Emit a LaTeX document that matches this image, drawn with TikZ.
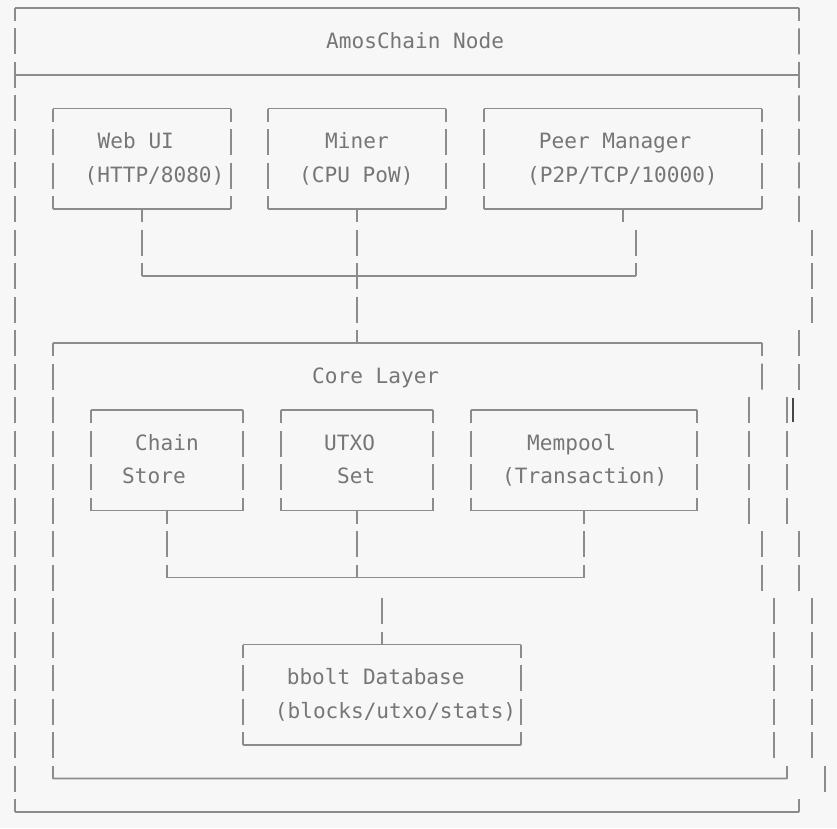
\documentclass[tikz,border=0pt]{standalone}
\usepackage{fontspec}
\newfontfamily\asciimono{DejaVu Sans Mono}
\usepackage{xcolor}
\definecolor{termbg}{RGB}{247,247,247}
\definecolor{termline}{RGB}{140,140,140}
\definecolor{termtext}{RGB}{118,118,118}
\definecolor{termcursor}{RGB}{70,70,70}
\tikzset{
    area/.style={rectangle, draw=none, inner sep=0pt, outer sep=0pt},
    txt/.style={anchor=base west, inner sep=0pt, text=termtext, font=\asciimono\fontsize{18}{18}\selectfont},
    hbar/.style={termline, line width=1.5pt},
    vbar/.style={termline, line width=1.5pt, dash pattern=on 0.78cm off 0.225cm, dash phase=0.39cm},
    vrun/.style={vbar, dash phase=0cm},
}
\newcommand{\asciibox}[1]{%
    \draw[hbar] (#1.north west) -- (#1.north east);
    \draw[hbar] (#1.south west) -- (#1.south east);
    \draw[vbar] (#1.north west) -- (#1.south west);
    \draw[vbar] (#1.north east) -- (#1.south east);
}
\begin{document}
\begin{tikzpicture}[x=0.03cm, y=-0.03cm]
    \fill[termbg] (0,0) rectangle (837,828);

    % outer frame
    \node[area, minimum width=23.52cm, minimum height=24.12cm] (outer) at (407,410) {};
    \node[txt] (title) at (326,48) {AmosChain Node};
    \coordinate (sep) at (0,75);
    \draw[hbar] (outer.north west) -- (outer.north east);
    \draw[hbar] (outer.south west) -- (outer.south east);
    \draw[hbar] (outer.west |- sep) -- (outer.east |- sep);
    \draw[vbar] (outer.north west) -- (outer.south west);
    % right edge drifts row by row
    \draw[vbar] (outer.north east) -- (799,222);
    \draw[vrun] (812,229.5) -- (812,322.5);
    \draw[vrun] (799,330) -- (799,389.5);
    \draw[vrun] (787,397) -- (787,523.5);
    \draw[vrun] (799,531) -- (799,590.5);
    \draw[vrun] (812,598) -- (812,758);
    \draw[vrun] (825,765.5) -- (825,791.5);
    \draw[vrun] (799,799) -- (outer.south east);
    \draw[termcursor, line width=2pt] (793,398) -- (793,421.7);

    % service boxes
    \node[area, minimum width=5.34cm, minimum height=3.015cm] (web) at (142,158.75) {};
    \node[area, minimum width=5.34cm, minimum height=3.015cm] (miner) at (357,158.75) {};
    \node[area, minimum width=8.34cm, minimum height=3.015cm] (peer) at (623,158.75) {};
    \asciibox{web}
    \asciibox{miner}
    \asciibox{peer}
    \node[txt] (web1) at (97.5,148.5) {Web UI};
    \node[txt] (web2) at (84.5,182) {(HTTP/8080)};
    \node[txt] (miner1) at (325,148.5) {Miner};
    \node[txt] (miner2) at (299,182) {(CPU PoW)};
    \node[txt] (peer1) at (538.7,148.5) {Peer Manager};
    \node[txt] (peer2) at (527,182) {(P2P/TCP/10000)};

    % core layer
    \node[area, minimum width=21.27cm, minimum height=13.065cm] (core) at (407.5,560.75) {};
    \node[txt] (coretitle) at (312,383) {Core Layer};
    \coordinate (coreEnd) at (787,778.5);
    \draw[hbar] (core.north west) -- (core.north east);
    \draw[hbar] (core.south west) -- (coreEnd);
    \draw[vbar] (core.north west) -- (core.south west);
    \draw[vbar] (core.north east) -- (762,389.5);
    \draw[vrun] (749,397) -- (749,523.5);
    \draw[vrun] (762,531) -- (762,590.5);
    \draw[vrun] (774,598) -- (774,758);
    \draw[vrun] (787,765.5) -- (coreEnd);

    % top bus
    \coordinate (topbus) at (636,276);
    \draw[vbar] (web.south) -- (web.south |- topbus);
    \draw[vbar] (peer.south) -- ([yshift=-0.39cm]peer.south);
    \draw[vrun] (636,229.5) -- (topbus);
    \draw[hbar] (web.south |- topbus) -- (topbus);
    \draw[vbar] (miner.south) -- (miner.south |- core.north);

    % core components
    \node[area, minimum width=4.56cm, minimum height=3.015cm] (chain) at (167,460.25) {};
    \node[area, minimum width=4.56cm, minimum height=3.015cm] (utxo) at (357,460.25) {};
    \node[area, minimum width=6.78cm, minimum height=3.015cm] (mempool) at (584,460.25) {};
    \node[area, minimum width=8.34cm, minimum height=3.015cm] (db) at (382,694.75) {};
    \asciibox{chain}
    \asciibox{utxo}
    \asciibox{mempool}
    \asciibox{db}
    \node[txt] (chain1) at (135,450) {Chain};
    \node[txt] (chain2) at (122,483.5) {Store};
    \node[txt] (utxo1) at (324,450) {UTXO};
    \node[txt] (utxo2) at (337,483.5) {Set};
    \node[txt] (mem1) at (527,450) {Mempool};
    \node[txt] (mem2) at (502,483.5) {(Transaction)};
    \node[txt] (db1) at (286.6,684.5) {bbolt Database};
    \node[txt] (db2) at (274.7,718) {(blocks/utxo/stats)};

    % storage bus
    \coordinate (corebus) at (0,577.5);
    \draw[vbar] (chain.south) -- (chain.south |- corebus);
    \draw[vbar] (utxo.south) -- (utxo.south |- corebus);
    \draw[vbar] (mempool.south) -- (mempool.south |- corebus);
    \draw[hbar] (chain.south |- corebus) -- (mempool.south |- corebus);
    \draw[vrun] ([yshift=1.395cm]db.north) -- (db.north);
\end{tikzpicture}
\end{document}
